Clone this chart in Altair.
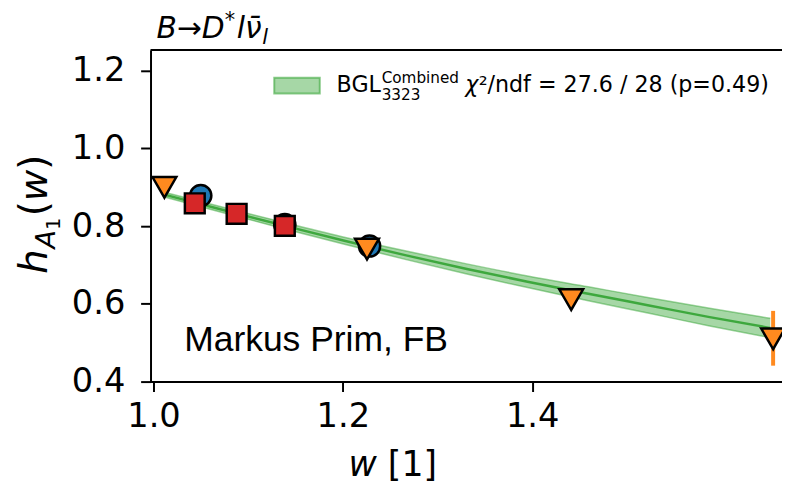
import altair as alt
import pandas as pd

# ---- data (in the units of the drawn w axis) ----
tri_w = [1.0115, 1.2255, 1.4412, 1.6545]
tri_h = [0.900, 0.741, 0.611, 0.510]
err_w = [1.6545]
err_lo = [0.441]
err_hi = [0.582]

circ_w = [1.0499, 1.1387, 1.2282]
circ_h = [0.879, 0.804, 0.749]

sq_w = [1.0436, 1.0878, 1.1387]
sq_h = [0.859, 0.832, 0.801]

band_w = [1.0105, 1.0746, 1.1387, 1.2027, 1.2669, 1.3310, 1.3951, 1.4593, 1.5234, 1.5875, 1.6515]
band_c = [0.882, 0.841, 0.801, 0.762, 0.725, 0.690, 0.657, 0.626, 0.596, 0.566, 0.538]
band_lo = [0.876, 0.834, 0.793, 0.753, 0.714, 0.677, 0.642, 0.608, 0.576, 0.543, 0.513]
band_hi = [0.888, 0.848, 0.809, 0.771, 0.736, 0.703, 0.672, 0.644, 0.616, 0.589, 0.563]

x_ticks = [1.0, 1.2, 1.4]
y_ticks = [0.4, 0.6, 0.8, 1.0, 1.2]

W, H = 638, 335
XDOM = [0.99686, 1.66388]
YDOM = [0.4, 1.2535]

GREEN = "#2ca02c"
ORANGE = "#ff8a1f"
RED = "#d62728"
BLUE = "#1f77b4"

xs = alt.Scale(domain=XDOM, nice=False, zero=False)
ys = alt.Scale(domain=YDOM, nice=False, zero=False)

xax = alt.Axis(values=x_ticks, format=".1f", title=None, grid=False,
               labelFont="DejaVu Sans", labelFontSize=34, labelColor="black",
               labelPadding=8, tickSize=10, tickWidth=2, tickColor="black",
               domainColor="black", domainWidth=2)
yax = alt.Axis(values=y_ticks, format=".1f", title=None, grid=False,
               labelFont="DejaVu Sans", labelFontSize=34, labelColor="black",
               labelPadding=16, tickSize=10, tickWidth=2, tickColor="black",
               domainColor="black", domainWidth=2)

band_df = pd.DataFrame({"w": band_w, "c": band_c, "lo": band_lo, "hi": band_hi})

band = alt.Chart(band_df).mark_area(color=GREEN, opacity=0.42, interpolate="monotone").encode(
    x=alt.X("w:Q", scale=xs, axis=xax),
    y=alt.Y("lo:Q", scale=ys, axis=yax),
    y2="hi:Q",
)
edge_lo = alt.Chart(band_df).mark_line(color=GREEN, opacity=0.45, strokeWidth=1.5, interpolate="monotone").encode(
    x=alt.X("w:Q", scale=xs), y=alt.Y("lo:Q", scale=ys))
edge_hi = alt.Chart(band_df).mark_line(color=GREEN, opacity=0.45, strokeWidth=1.5, interpolate="monotone").encode(
    x=alt.X("w:Q", scale=xs), y=alt.Y("hi:Q", scale=ys))
center = alt.Chart(band_df).mark_line(color=GREEN, opacity=0.85, strokeWidth=2.5, interpolate="monotone").encode(
    x=alt.X("w:Q", scale=xs), y=alt.Y("c:Q", scale=ys))

err = alt.Chart(pd.DataFrame({"w": err_w, "lo": err_lo, "hi": err_hi})).mark_rule(
    color=ORANGE, strokeWidth=4).encode(
    x=alt.X("w:Q", scale=xs), y=alt.Y("lo:Q", scale=ys), y2="hi:Q")

circles = alt.Chart(pd.DataFrame({"w": circ_w, "h": circ_h})).mark_point(
    shape="circle", filled=True, fill=BLUE, stroke="black", strokeWidth=2.5, size=460, opacity=1).encode(
    x=alt.X("w:Q", scale=xs), y=alt.Y("h:Q", scale=ys))

squares = alt.Chart(pd.DataFrame({"w": sq_w, "h": sq_h})).mark_point(
    shape="square", filled=True, fill=RED, stroke="black", strokeWidth=2.5, size=400, opacity=1).encode(
    x=alt.X("w:Q", scale=xs), y=alt.Y("h:Q", scale=ys))

tris = alt.Chart(pd.DataFrame({"w": tri_w, "h": tri_h})).mark_point(
    shape="triangle-down", filled=True, fill=ORANGE, stroke="black", strokeWidth=2.5, size=580, opacity=1).encode(
    x=alt.X("w:Q", scale=xs), y=alt.Y("h:Q", scale=ys))

one = pd.DataFrame({"k": [0]})

top_border = alt.Chart(one).mark_rule(color="black", strokeWidth=2).encode(
    x=alt.value(0), x2=alt.value(W + 10), y=alt.value(0))


def txt(s, x, y, size, style="normal", font="DejaVu Sans", angle=0, weight="normal"):
    return alt.Chart(one).mark_text(
        text=s, fontSize=size, font=font, fontStyle=style, fontWeight=weight,
        angle=angle, align="left", baseline="alphabetic", color="black"
    ).encode(x=alt.value(x), y=alt.value(y))


# legend
legend_patch = alt.Chart(one).mark_rect(
    fill=GREEN, fillOpacity=0.42, stroke=GREEN, strokeOpacity=0.55, strokeWidth=2).encode(
    x=alt.value(125), x2=alt.value(171), y=alt.value(28), y2=alt.value(44))

texts = [
    # legend label
    txt("BGL", 188, 42, 22.4),
    txt("Combined", 233.5, 33, 15.4),
    txt("3323", 233.5, 50, 15.4),
    txt("\u03c7", 318, 42, 22.4, style="italic"),
    txt("\u00b2/ndf = 27.6 / 28 (p=0.49)", 331.5, 42, 22.4),
    # title
    txt("B\u2192D", 6, -12, 30, style="italic"),
    txt("*", 75, -23, 21, style="italic"),
    txt("l\u03bd\u0304", 87, -12, 30, style="italic"),
    txt("l", 113, -6, 21, style="italic"),
    # watermark
    txt("Markus Prim, FB", 34, 304, 35.8, font="Liberation Sans"),
    # x title
    txt("w", 200, 430, 35, style="italic"),
    txt("[1]", 239.8, 430, 35),
    # y title (rotated)
    txt("h", -105, 226, 39, style="italic", angle=270),
    txt("A", -96.5, 200.5, 27.3, style="italic", angle=270),
    txt("1", -91.5, 181.5, 19, angle=270),
    txt("(", -105, 168, 39, angle=270),
    txt("w", -105, 152.8, 39, style="italic", angle=270),
    txt(")", -105, 120.9, 39, angle=270),
]

chart = alt.layer(
    band, edge_lo, edge_hi, center, err, circles, squares, tris,
    top_border, legend_patch, *texts
).properties(
    width=W, height=H,
    padding={"left": 144, "top": 40, "right": 0, "bottom": 100},
    autosize=alt.AutoSizeParams(type="none"),
).configure_view(stroke=None).configure(background="white")

chart.save("out.html", embed_options={"renderer": "svg", "actions": False})
